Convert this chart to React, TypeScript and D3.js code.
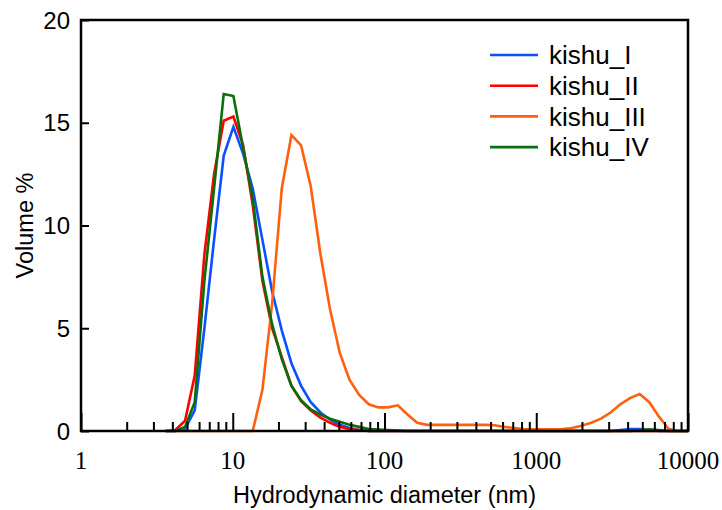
import { useEffect, useRef } from "react";
import * as d3 from "d3";

const width = 722;
const height = 510;
const marginLeft = 81;
const marginRight = 34;
const marginTop = 20;
const marginBottom = 79;

// size bins (nm)
const sizes = [
  3.615, 4.187, 4.849, 5.615, 6.503, 7.531, 8.721, 10.1, 11.7, 13.54, 15.69,
  18.17, 21.04, 24.36, 28.21, 32.67, 37.84, 43.82, 50.75, 58.77, 68.06, 78.82,
  91.28, 105.7, 122.4, 141.8, 164.2, 190.1, 220.2, 255.0, 295.3, 342.0, 396.1,
  458.7, 531.2, 615.1, 712.4, 825.0, 955.4, 1106, 1281, 1484, 1718, 1990, 2305,
  2669, 3091, 3580, 4145, 4801, 5560, 6439, 7456, 8635, 10000,
];

const kishuI = [
  0, 0, 0.1, 1.0, 5.0, 9.3, 13.4, 14.8, 13.5, 11.8, 9.3, 6.8, 4.9, 3.3, 2.2,
  1.4, 0.9, 0.55, 0.3, 0.15, 0.05, 0, 0, 0, 0, 0, 0, 0, 0, 0, 0, 0, 0, 0, 0, 0,
  0, 0, 0, 0, 0, 0, 0, 0, 0, 0, 0, 0.05, 0.1, 0.1, 0.05, 0, 0, 0, 0,
];

const kishuII = [
  0, 0.05, 0.5, 2.7, 8.6, 12.5, 15.1, 15.3, 13.9, 11.0, 7.3, 5.0, 3.6, 2.2,
  1.45, 1.0, 0.65, 0.4, 0.2, 0.1, 0.05, 0, 0, 0, 0, 0, 0, 0, 0, 0, 0, 0, 0, 0,
  0, 0, 0, 0, 0, 0, 0, 0, 0, 0, 0, 0, 0, 0, 0, 0, 0, 0, 0, 0, 0,
];

const kishuIII = [
  0, 0, 0, 0, 0, 0, 0, 0, 0, 0, 2.0, 6.2, 11.8, 14.4, 13.9, 11.9, 8.6, 5.9,
  3.8, 2.5, 1.75, 1.3, 1.15, 1.15, 1.25, 0.8, 0.4, 0.3, 0.3, 0.3, 0.3, 0.3, 0.3,
  0.3, 0.28, 0.2, 0.15, 0.1, 0.08, 0.08, 0.08, 0.1, 0.15, 0.25, 0.4, 0.6, 0.9,
  1.3, 1.6, 1.8, 1.4, 0.7, 0.1, 0, 0,
];

const kishuIV = [
  0, 0, 0.2, 1.4, 7.3, 11.8, 16.4, 16.3, 13.8, 11.3, 7.5, 5.2, 3.5, 2.2, 1.5,
  1.05, 0.8, 0.6, 0.45, 0.3, 0.2, 0.1, 0.07, 0.05, 0.02, 0, 0, 0, 0, 0, 0, 0, 0,
  0, 0, 0, 0, 0, 0, 0, 0, 0, 0, 0, 0, 0, 0, 0, 0, 0.05, 0.08, 0.05, 0, 0, 0,
];

const seriesNames = ["kishu_I", "kishu_II", "kishu_III", "kishu_IV"];
const seriesValues = [kishuI, kishuII, kishuIII, kishuIV];
const seriesColors = ["#0a50ff", "#ff0000", "#ff6010", "#0b6e0b"];

const xMajor = [1, 10, 100, 1000, 10000];
const yTicks = [0, 5, 10, 15, 20];

const sans = "Arial, 'Liberation Sans', sans-serif";
const serif = "'Times New Roman', 'Liberation Serif', serif";

export default function App() {
  const ref = useRef<SVGSVGElement>(null);

  const x = d3
    .scaleLog()
    .domain([1, 10000])
    .range([marginLeft, width - marginRight]);
  const y = d3
    .scaleLinear()
    .domain([0, 20])
    .range([height - marginBottom, marginTop]);

  const xMinor: number[] = [];
  for (let d = 1; d < 10000; d *= 10) {
    for (let k = 2; k <= 9; k++) xMinor.push(d * k);
  }

  const line = d3
    .line<[number, number]>()
    .x((d) => x(d[0]))
    .y((d) => y(d[1]));

  useEffect(() => {
    const svg = d3.select(ref.current);
    svg
      .select<SVGGElement>(".x-minor")
      .call(d3.axisBottom(x).tickValues(xMinor).tickSize(-9).tickFormat(() => ""))
      .call((g) => g.select(".domain").remove());
    svg
      .select<SVGGElement>(".x-major")
      .call(d3.axisBottom(x).tickValues(xMajor).tickSize(-18).tickFormat(() => ""))
      .call((g) => g.select(".domain").remove());
    svg
      .select<SVGGElement>(".y-axis")
      .call(d3.axisLeft(y).tickValues(yTicks).tickSize(-8).tickFormat(() => ""))
      .call((g) => g.select(".domain").remove());
    svg.selectAll(".tick line").attr("stroke", "#000").attr("stroke-width", 2);
  }, []);

  const bottom = height - marginBottom;

  return (
    <svg
      ref={ref}
      width={width}
      height={height}
      style={{ position: "absolute", left: 0, top: 0, background: "#fff" }}
    >
      <g className="lines">
        {seriesValues.map((vals, i) => (
          <path
            key={seriesNames[i]}
            d={line(sizes.map((s, j) => [s, vals[j]]) as [number, number][]) ?? ""}
            fill="none"
            stroke={seriesColors[i]}
            strokeWidth={2.6}
            strokeLinejoin="miter"
          />
        ))}
      </g>
      <g className="x-minor" transform={`translate(0,${bottom})`} />
      <g className="x-major" transform={`translate(0,${bottom})`} />
      <g className="y-axis" transform={`translate(${marginLeft},0)`} />
      <rect
        x={marginLeft}
        y={marginTop}
        width={width - marginLeft - marginRight}
        height={bottom - marginTop}
        fill="none"
        stroke="#000"
        strokeWidth={2.5}
      />
      {xMajor.map((v) => (
        <text
          key={v}
          x={x(v)}
          y={469}
          textAnchor="middle"
          fontFamily={serif}
          fontSize={25}
        >
          {v}
        </text>
      ))}
      {yTicks.map((v) => (
        <text
          key={v}
          x={70}
          y={y(v)}
          dy="0.36em"
          textAnchor="end"
          fontFamily={sans}
          fontSize={24}
        >
          {v}
        </text>
      ))}
      <text
        x={(marginLeft + width - marginRight) / 2}
        y={503}
        textAnchor="middle"
        fontFamily={sans}
        fontSize={23.5}
      >
        Hydrodynamic diameter (nm)
      </text>
      <text
        transform={`translate(33,${(marginTop + bottom) / 2}) rotate(-90)`}
        textAnchor="middle"
        fontFamily={sans}
        fontSize={23.5}
      >
        Volume %
      </text>
      <g className="legend">
        {seriesNames.map((name, i) => (
          <g key={name} transform={`translate(490,${55 + i * 30.7})`}>
            <line x1={0} x2={48} y1={0} y2={0} stroke={seriesColors[i]} strokeWidth={2.6} />
            <text x={59} y={0} dy="0.36em" fontFamily={sans} fontSize={26}>
              {name}
            </text>
          </g>
        ))}
      </g>
    </svg>
  );
}
